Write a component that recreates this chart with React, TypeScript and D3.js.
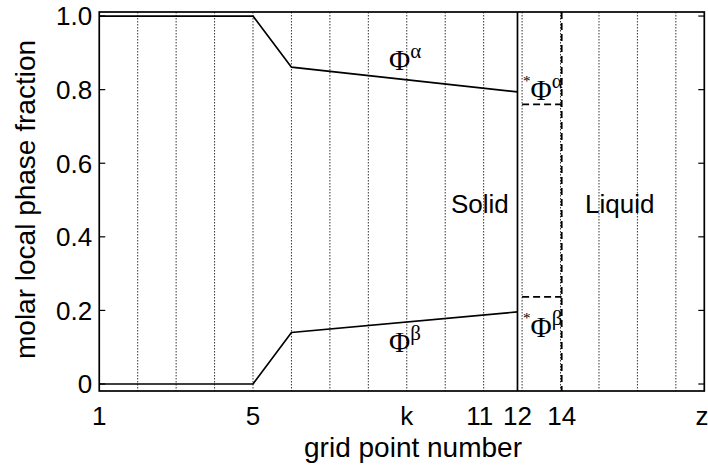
import React from "react";
import * as d3 from "d3";

// ---- data ----
const alphaX = [1, 2, 3, 4, 5, 6, 11.88];
const alphaY = [1.0, 1.0, 1.0, 1.0, 1.0, 0.861, 0.794];
const betaX = [1, 2, 3, 4, 5, 6, 11.88];
const betaY = [0.0, 0.0, 0.0, 0.0, 0.0, 0.14, 0.196];
const interfaceX = 11.88; // solid line (solid | liquid interface)
const liquidX = 13.03; // dashed line
const starAlpha = 0.76;
const starBeta = 0.237;
const gridLines = [2, 3, 4, 5, 6, 7, 8, 9, 10, 11, 12, 13, 14, 15, 16];
const xTickPos = [1, 5, 9, 10.9, 11.88, 13.03, 16.68];
const xTickLabels = ["1", "5", "k", "11", "12", "14", "z"];
const yTicks = [0, 0.2, 0.4, 0.6, 0.8, 1.0];
const yTickLabels = ["0", "0.2", "0.4", "0.6", "0.8", "1.0"];
const xDomain = [1, 16.74];
const yDomain = [-0.019, 1.011];

const W = 708;
const H = 466;
const L = 99.25;
const R = 704.3;
const T = 12;
const B = 391;

const SANS = "'Liberation Sans', Arial, Helvetica, sans-serif";
const SERIF = "'Liberation Serif', 'Times New Roman', serif";

export default function App() {
  const x = d3.scaleLinear().domain(xDomain).range([L, R]);
  const y = d3.scaleLinear().domain(yDomain).range([B, T]);
  const line = d3
    .line<[number, number]>()
    .x((d) => x(d[0]))
    .y((d) => y(d[1]));
  const alphaPts = alphaX.map((v, i) => [v, alphaY[i]] as [number, number]);
  const betaPts = betaX.map((v, i) => [v, betaY[i]] as [number, number]);

  const phiLabel = (px: number, py: number, sup: string, star: boolean) => (
    <text x={px} y={py} fontFamily={SERIF} fontSize={29} fill="#000">
      {star ? (
        <tspan fontSize={15} dy={-14}>
          *
        </tspan>
      ) : null}
      <tspan dy={star ? 14 : 0}>Φ</tspan>
      <tspan fontSize={21} dy={-12}>
        {sup}
      </tspan>
    </text>
  );

  return (
    <svg
      width={W}
      height={H}
      style={{ position: "absolute", left: 0, top: 0, background: "#fff" }}
    >
      <rect x={0} y={0} width={W} height={H} fill="#fff" />
      {/* grid lines */}
      {gridLines.map((g) => (
        <line
          key={g}
          x1={x(g)}
          x2={x(g)}
          y1={T}
          y2={B}
          stroke="#000"
          strokeWidth={0.8}
          strokeDasharray="1.5,1.5"
        />
      ))}
      {/* interface solid line */}
      <line
        x1={x(interfaceX)}
        x2={x(interfaceX)}
        y1={T}
        y2={B}
        stroke="#000"
        strokeWidth={1.7}
      />
      {/* liquid dashed line */}
      <line
        x1={x(liquidX)}
        x2={x(liquidX)}
        y1={T}
        y2={B}
        stroke="#000"
        strokeWidth={1.8}
        strokeDasharray="7,4"
      />
      {/* dashed star lines */}
      <line
        x1={x(12)}
        x2={x(liquidX)}
        y1={y(starAlpha)}
        y2={y(starAlpha)}
        stroke="#000"
        strokeWidth={1.8}
        strokeDasharray="7,4"
      />
      <line
        x1={x(12)}
        x2={x(liquidX)}
        y1={y(starBeta)}
        y2={y(starBeta)}
        stroke="#000"
        strokeWidth={1.8}
        strokeDasharray="7,4"
      />
      {/* data lines */}
      <path d={line(alphaPts) || ""} fill="none" stroke="#000" strokeWidth={1.7} />
      <path d={line(betaPts) || ""} fill="none" stroke="#000" strokeWidth={1.7} />
      {/* axes box */}
      <rect
        x={L}
        y={T}
        width={R - L}
        height={B - T}
        fill="none"
        stroke="#000"
        strokeWidth={1.7}
      />
      {/* y ticks */}
      {yTicks.map((t, i) => (
        <g key={t}>
          <line x1={L} x2={L + 6} y1={y(t)} y2={y(t)} stroke="#000" strokeWidth={1.2} />
          <line x1={R} x2={R - 6} y1={y(t)} y2={y(t)} stroke="#000" strokeWidth={1.2} />
          <text
            x={L - 7}
            y={y(t)}
            dy="0.36em"
            textAnchor="end"
            fontFamily={SANS}
            fontSize={26}
            fill="#000"
          >
            {yTickLabels[i]}
          </text>
        </g>
      ))}
      {/* x tick labels */}
      {xTickPos.map((t, i) => (
        <text
          key={i}
          x={x(t)}
          y={425}
          textAnchor="middle"
          fontFamily={SANS}
          fontSize={26}
          fill="#000"
        >
          {xTickLabels[i]}
        </text>
      ))}
      {/* axis labels */}
      <text
        x={413}
        y={457}
        textAnchor="middle"
        fontFamily={SANS}
        fontSize={28}
        fill="#000"
      >
        grid point number
      </text>
      <text
        transform={`translate(35,${(T + B) / 2 - 2}) rotate(-90)`}
        textAnchor="middle"
        fontFamily={SANS}
        fontSize={28}
        fill="#000"
      >
        molar local phase fraction
      </text>
      {/* region labels */}
      <text x={451} y={213} fontFamily={SANS} fontSize={26} fill="#000">
        Solid
      </text>
      <text x={585} y={213} fontFamily={SANS} fontSize={26} fill="#000">
        Liquid
      </text>
      {/* phi labels */}
      {phiLabel(389, 70, "α", false)}
      {phiLabel(389, 352, "β", false)}
      {phiLabel(523, 100, "α", true)}
      {phiLabel(523, 337, "β", true)}
    </svg>
  );
}
